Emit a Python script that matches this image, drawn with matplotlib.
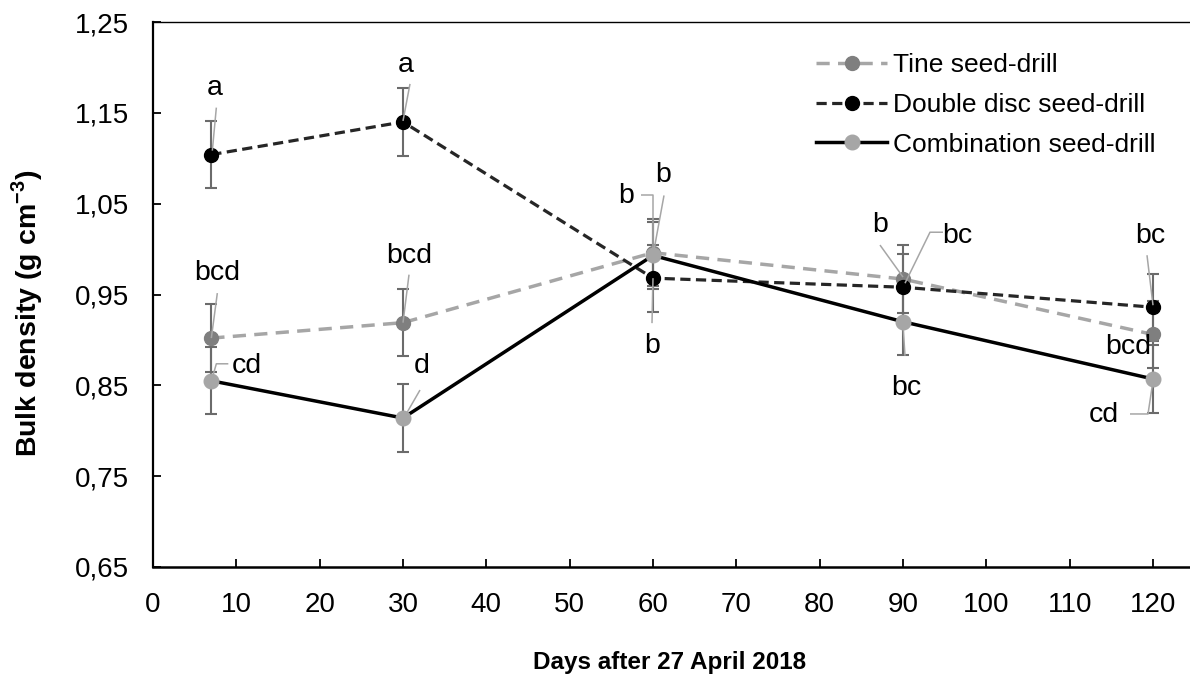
import matplotlib
matplotlib.use("Agg")
import matplotlib.pyplot as plt
import matplotlib.transforms as mtransforms
import numpy as np

plt.rcParams['font.family'] = ['Liberation Sans', 'DejaVu Sans']
plt.rcParams['mathtext.fontset'] = 'custom'
plt.rcParams['mathtext.rm'] = 'Liberation Sans'
plt.rcParams['mathtext.bf'] = 'Liberation Sans:bold'

# ---- data ----
days = [7, 30, 60, 90, 120]
tine = [0.902, 0.919, 0.996, 0.967, 0.906]
double_disc = [1.104, 1.140, 0.968, 0.958, 0.936]
combination = [0.855, 0.814, 0.993, 0.920, 0.857]
err_tine = [0.037, 0.037, 0.037, 0.037, 0.037]
err_double = [0.037, 0.037, 0.037, 0.037, 0.037]
err_comb = [0.037, 0.037, 0.037, 0.037, 0.037]
letters_tine = ["bcd", "bcd", "b", "b", "bcd"]
letters_double = ["a", "a", "b", "bc", "bc"]
letters_comb = ["cd", "d", "b", "bc", "cd"]
series_names = ["Tine seed-drill", "Double disc seed-drill", "Combination seed-drill"]
y_ticks = [0.65, 0.75, 0.85, 0.95, 1.05, 1.15, 1.25]
y_tick_labels = ["0,65", "0,75", "0,85", "0,95", "1,05", "1,15", "1,25"]
x_ticks = [0, 10, 20, 30, 40, 50, 60, 70, 80, 90, 100, 110, 120]
x_title = 'Days after 27 April 2018'
y_title = r'Bulk density (g cm$^{\mathbf{-3}}$)'

# ---- figure ----
W, H = 1190, 677
fig = plt.figure(figsize=(W / 100, H / 100), dpi=100)
ax = fig.add_axes([153 / W, (H - 567) / H, 1 - 153 / W, (567 - 22) / H])
ax.set_xlim(0, (W - 153) / (1000 / 120))
ax.set_ylim(0.65, 1.25)

FS_TICK = 20
FS_LEG = 19
FS_LET = 20.5
FS_XTITLE = 17.5
FS_YTITLE = 20.5

err_color = '#6b6b6b'
ekw = dict(ecolor=err_color, elinewidth=1.5, capsize=4, capthick=1.5, zorder=2)

ax.errorbar(days, tine, yerr=err_tine, fmt='none', **ekw)
ax.errorbar(days, double_disc, yerr=err_double, fmt='none', **ekw)
ax.errorbar(days, combination, yerr=err_comb, fmt='none', **ekw)

l1, = ax.plot(days, tine, color='#a6a6a6', lw=2.5, linestyle=(0, (3.8, 2.4)),
              marker='o', ms=10, mfc='#7f7f7f', mec='#7f7f7f', zorder=3,
              label=series_names[0])
l2, = ax.plot(days, double_disc, color='#262626', lw=2.3, linestyle=(0, (3.2, 1.7)),
              marker='o', ms=10, mfc='#000000', mec='#000000', zorder=4,
              label=series_names[1])
l3, = ax.plot(days, combination, color='#000000', lw=2.5, linestyle='-',
              marker='o', ms=10.5, mfc='#a6a6a6', mec='#a6a6a6', zorder=5,
              label=series_names[2])

# ---- significance letters with leader lines (offsets in pixels) ----
lead_color = '#a6a6a6'

def label(x, y, text, toff, path=None):
    ax.annotate(text, (x, y), xytext=toff, textcoords='offset pixels',
                ha='center', va='center', fontsize=FS_LET, zorder=7,
                annotation_clip=False)
    if path:
        tr = mtransforms.IdentityTransform() + mtransforms.ScaledTranslation(x, y, ax.transData)
        xs = [p[0] for p in path]
        ys = [p[1] for p in path]
        ax.plot(xs, ys, transform=tr, color=lead_color, lw=1.1, zorder=6,
                clip_on=False, solid_capstyle='butt')

# Double disc
label(days[0], double_disc[0], letters_double[0], (3, 67), [(5, 47), (1, 4)])
label(days[1], double_disc[1], letters_double[1], (3, 57), [(7, 38), (0, 1)])
label(days[2], double_disc[2], letters_double[2], (-1, -68), [(-1, -45), (0, 0)])
label(days[3], double_disc[3], letters_double[3], (54, 51), [(40, 55), (27, 55), (2, 4)])
label(days[4], double_disc[4], letters_double[4], (-3, 71), [(-6, 52), (0, 2)])
# Tine
label(days[0], tine[0], letters_tine[0], (6, 65), [(6, 45), (0, 0)])
label(days[1], tine[1], letters_tine[1], (6, 67), [(6, 48), (0, 0)])
label(days[2], tine[2], letters_tine[2], (-27, 57), [(-12, 58), (0, 58), (0, 0)])
label(days[3], tine[3], letters_tine[3], (-23, 54), [(-23, 34), (0, 2)])
label(days[4], tine[4], letters_tine[4], (-25, -13))
# Combination
label(days[0], combination[0], letters_comb[0], (35, 15), [(17, 17), (5, 17), (1, 3)])
label(days[1], combination[1], letters_comb[1], (19, 52), [(17, 28), (2, 2)])
label(days[2], combination[2], letters_comb[2], (10, 80), [(11, 60), (0, 0)])
label(days[3], combination[3], letters_comb[3], (3, -66), [(2, -34), (0, -3)])
label(days[4], combination[4], letters_comb[4], (-49, -36), [(-23, -35), (-5, -35), (0, -2)])

# ---- axes styling ----
ax.set_yticks(y_ticks)
ax.set_yticklabels(y_tick_labels)
ax.set_xticks(x_ticks)
ax.tick_params(axis='both', direction='in', length=6, width=1.3, labelsize=FS_TICK,
               color='black')
ax.tick_params(axis='y', pad=17)
ax.tick_params(axis='x', pad=18)
ax.spines['right'].set_visible(False)
ax.spines['left'].set_linewidth(1.6)
ax.spines['bottom'].set_linewidth(1.8)
ax.spines['top'].set_linewidth(1.0)

fig.text(670 / W, 1 - 663 / H, x_title, fontsize=FS_XTITLE, fontweight='bold',
         ha='center', va='center')
fig.text(27 / W, 1 - 313 / H, y_title, fontsize=FS_YTITLE, fontweight='bold',
         ha='center', va='center', rotation=90)

leg = ax.legend(handles=[l1, l2, l3], loc='upper left',
                bbox_to_anchor=(816 / W, 1 - 53 / H), bbox_transform=fig.transFigure,
                frameon=False, fontsize=FS_LEG, handlelength=2.7, handletextpad=0.22,
                borderpad=0, labelspacing=0.6, borderaxespad=0)

fig.savefig('out.png', dpi=100)
